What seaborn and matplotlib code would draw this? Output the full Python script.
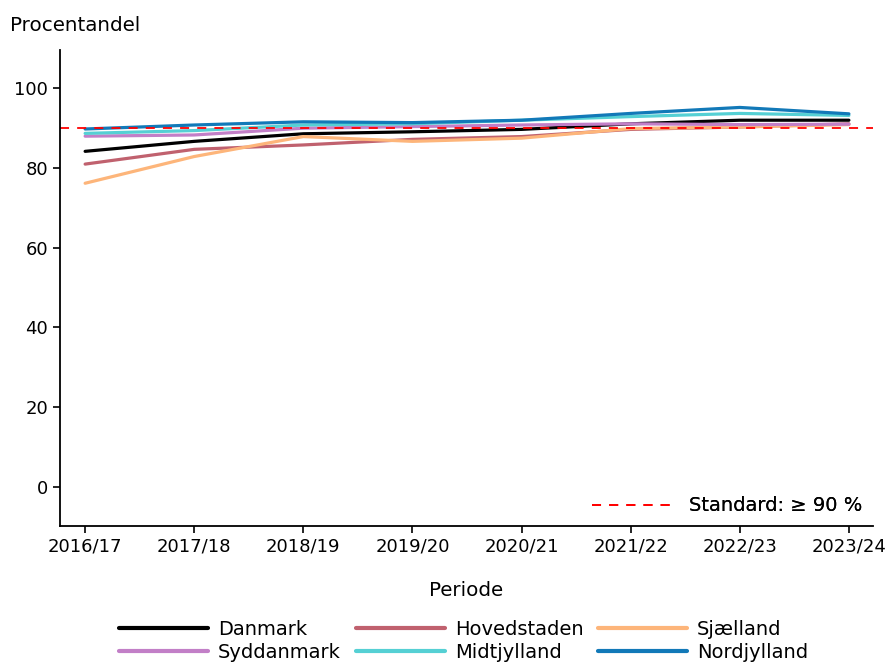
import matplotlib
matplotlib.use("Agg")
import matplotlib.pyplot as plt
import seaborn as sns
import pandas as pd
from matplotlib.lines import Line2D

periods = ["2016/17", "2017/18", "2018/19", "2019/20", "2020/21", "2021/22", "2022/23", "2023/24"]
danmark = [84.1, 86.6, 88.5, 89.0, 89.6, 91.0, 91.9, 91.9]
hovedstaden = [80.9, 84.6, 85.7, 87.1, 87.8, 89.6, 90.2, 91.0]
sjaelland = [76.1, 82.8, 87.8, 86.6, 87.4, 89.8, 90.2, 90.8]
syddanmark = [87.9, 88.2, 89.9, 90.3, 90.7, 91.0, 90.8, 90.9]
midtjylland = [88.6, 89.3, 90.7, 91.0, 91.9, 92.8, 93.6, 93.1]
nordjylland = [89.7, 90.7, 91.5, 91.3, 91.9, 93.6, 95.1, 93.5]
standard = 90

regions = ["Danmark", "Hovedstaden", "Sjælland", "Syddanmark", "Midtjylland", "Nordjylland"]
series = [danmark, hovedstaden, sjaelland, syddanmark, midtjylland, nordjylland]
colors = ["#000000", "#c0616e", "#fdb57a", "#c27fc7", "#55d0d4", "#1279b8"]

rows = []
for r, vals in zip(regions, series):
    for i, v in enumerate(vals):
        rows.append({"Region": r, "x": i, "Procentandel": v})
df = pd.DataFrame(rows)

sns.set_theme(style="ticks")
plt.rcParams['font.family'] = ['DejaVu Sans']
plt.rcParams['text.color'] = 'black'
plt.rcParams['axes.labelcolor'] = 'black'
FS = 13
FS_LAB = 14.3
FS_LEG = 14

fig = plt.figure(figsize=(8.88, 6.62), dpi=100)
ax = fig.add_axes([0.0676, 0.2054, 0.9154, 0.7191])

sns.lineplot(data=df, x="x", y="Procentandel", hue="Region", hue_order=regions,
             palette=dict(zip(regions, colors)), linewidth=2.3, ax=ax, legend=False)

ax.axhline(standard, color="red", linestyle=(0, (5, 4.5)), linewidth=1.3)

ax.set_ylim(-9.8, 109.5)
ax.set_xlim(-0.23, 7.22)
ax.set_xticks(range(len(periods)))
ax.set_xticklabels(periods, fontsize=FS)
ax.set_yticks([0, 20, 40, 60, 80, 100])
ax.tick_params(axis="both", labelsize=FS, length=5, width=1.2, direction="out",
               colors="black", labelcolor="black")
for s in ["top", "right"]:
    ax.spines[s].set_visible(False)
for s in ["left", "bottom"]:
    ax.spines[s].set_linewidth(1.3)
    ax.spines[s].set_color("black")

ax.set_ylabel("")
ax.set_xlabel("Periode", fontsize=FS_LAB, labelpad=18, color="black")
fig.text(0.011, 0.962, "Procentandel", fontsize=FS_LAB, ha="left", va="center", color="black")

# Standard legend inside axes
std_handle = Line2D([0], [0], color="red", linestyle=(0, (5, 4.5)), linewidth=1.3)
leg1 = ax.legend([std_handle], ["Standard: \u2265 90 %"], loc="lower right",
                 frameon=False, fontsize=14, handlelength=4.4, handletextpad=0.6,
                 bbox_to_anchor=(1.0, 0.0), borderaxespad=0.15)
ax.add_artist(leg1)

# Region legend below (row-wise order with 3 columns)
handles = [Line2D([0], [0], color=c, linewidth=3) for c in colors]
order = [0, 3, 1, 4, 2, 5]
fig.legend([handles[i] for i in order], [regions[i] for i in order],
           loc="lower center", bbox_to_anchor=(0.522, -0.026), ncol=3, frameon=False,
           fontsize=FS_LEG, handlelength=4.6, columnspacing=0.75, labelspacing=0.2,
           handletextpad=0.5)

fig.savefig("out.png", dpi=100)
